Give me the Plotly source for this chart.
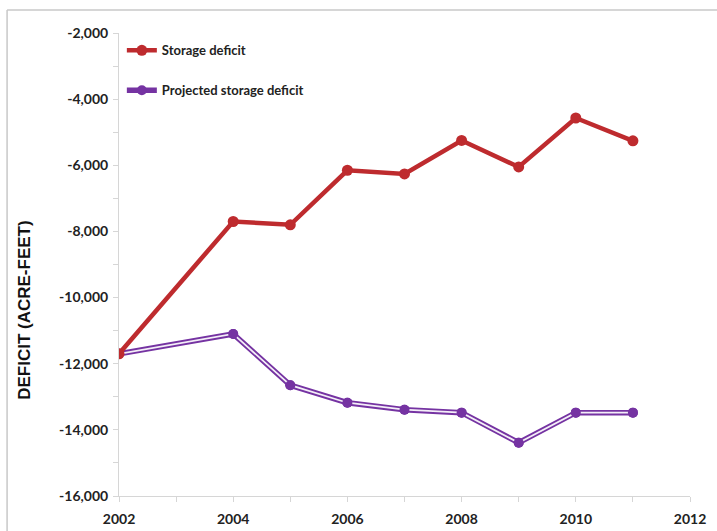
import plotly.graph_objects as go

# Annual storage deficit (acre-feet)
years = [2002, 2004, 2005, 2006, 2007, 2008, 2009, 2010, 2011]
storage_deficit = [-11700, -7700, -7800, -6150, -6260, -5250, -6050, -4570, -5260]
projected_deficit = [-11700, -11100, -12650, -13180, -13390, -13480, -14390, -13480, -13480]

x_ticks = [2002, 2004, 2006, 2008, 2010, 2012]
y_ticks = [-16000, -14000, -12000, -10000, -8000, -6000, -4000, -2000]

RED = "#BE2B2E"
PURPLE = "#7533A2"
AXIS = "#D6D6D6"
FONT = "Lato"
TEXT = "#222222"

fig = go.Figure()

# Projected series: a purple line with a thin pale core gives a double-line look
fig.add_trace(go.Scatter(
    x=years, y=projected_deficit, mode="lines+markers",
    name="Projected storage deficit", legendgroup="proj",
    line=dict(color=PURPLE, width=5.5),
    marker=dict(color=PURPLE, size=10),
    legendrank=2,
))
fig.add_trace(go.Scatter(
    x=years, y=projected_deficit, mode="lines",
    line=dict(color="#F4EEF8", width=1.8),
    showlegend=False, hoverinfo="skip",
))
fig.add_trace(go.Scatter(
    x=years, y=projected_deficit, mode="markers",
    marker=dict(color=PURPLE, size=10),
    showlegend=False, hoverinfo="skip",
))

fig.add_trace(go.Scatter(
    x=years, y=storage_deficit, mode="lines+markers",
    name="Storage deficit", legendgroup="storage",
    line=dict(color=RED, width=4.5),
    marker=dict(color=RED, size=11),
    legendrank=1,
))

tick_font = dict(family=FONT, size=14, color=TEXT, weight="bold")

fig.update_layout(
    width=717, height=531,
    margin=dict(l=119, r=27, t=33, b=35),
    paper_bgcolor="white", plot_bgcolor="white",
    font=dict(family=FONT, size=13, color=TEXT),
    showlegend=True,
    legend=dict(
        x=0.005, y=0.995, xanchor="left", yanchor="top",
        bgcolor="rgba(0,0,0,0)",
        font=dict(family=FONT, size=13, color=TEXT, weight="bold"),
        tracegroupgap=20, itemwidth=30,
    ),
    xaxis=dict(
        range=[2002, 2012], tickvals=x_ticks, ticktext=[str(v) for v in x_ticks],
        showgrid=False, zeroline=False, automargin=False,
        showline=True, linecolor=AXIS, linewidth=1,
        ticks="outside", ticklen=5, tickcolor=AXIS,
        minor=dict(dtick=1, ticks="outside", ticklen=5, tickcolor=AXIS),
        tickfont=tick_font, ticklabelstandoff=5,
    ),
    yaxis=dict(
        range=[-16000, -2000], tickvals=y_ticks,
        ticktext=[f"{v:,}" for v in y_ticks],
        showgrid=False, zeroline=False, automargin=False,
        showline=True, linecolor=AXIS, linewidth=1,
        ticks="outside", ticklen=5, tickcolor=AXIS,
        minor=dict(dtick=1000, ticks="outside", ticklen=5, tickcolor=AXIS),
        tickfont=tick_font, ticklabelstandoff=2,
    ),
    annotations=[
        dict(text="DEFICIT (ACRE-FEET)", xref="paper", yref="paper",
             x=-0.1646, y=0.40, textangle=-90, showarrow=False,
             xanchor="center", yanchor="middle",
             font=dict(family="Liberation Sans", size=17, color="#111111", weight="bold")),
    ],
    shapes=[
        # chart frame: top and left edges
        dict(type="line", xref="paper", yref="paper", x0=-0.196, x1=1.1, y0=1.0497, y1=1.0497,
             line=dict(color="#C8C8C8", width=1.5)),
        dict(type="line", xref="paper", yref="paper", x0=-0.196, x1=-0.196, y0=-0.1, y1=1.0497,
             line=dict(color="#C8C8C8", width=1.5)),
    ],
)

fig.write_html("out.html")
